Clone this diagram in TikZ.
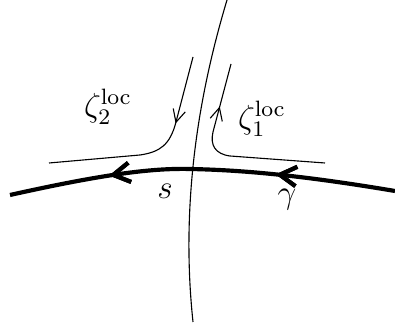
\documentclass[tikz,border=0pt]{standalone}
\usepackage{amsmath}
\usetikzlibrary{arrows.meta,decorations.markings}

\begin{document}
\begin{tikzpicture}[x=0.36pt,y=-0.36pt,
      thinline/.style={line width=0.4pt},
      thickline/.style={line width=1.5pt},
      marksmall/.style={postaction={decorate},decoration={markings,
                   mark=at position #1 with {\arrow{Straight Barb[length=4.5pt,width=4.5pt,line width=0.4pt]}}}},
      markbig/.style={postaction={decorate},decoration={markings,
                   mark=at position #1 with {\arrow{Straight Barb[length=6pt,width=7pt,line width=1.5pt]}}}},
      lbl/.style={inner sep=0pt,font=\large}]
    \useasboundingbox (0,0) rectangle (395,324);
    % vertical line through s
    \draw[thinline] (227,0) .. controls (200,90) and (180,200) .. (193,322);
    % the contour gamma
    \draw[thickline,markbig/.list={0.31,0.74}] (395,191) .. controls (300,175) and (240,170) .. (190,169)
                                     .. controls (150,168) and (100,175) .. (10,195);
    % local pieces
    \draw[thinline,marksmall=0.325] (193,57) -- (176,122) .. controls (170,145) and (160,152) .. (140,155) -- (49,163);
    \draw[thinline,marksmall=0.78] (325,163) -- (230,156) .. controls (215,154) and (210,145) .. (213,132) -- (231,64);
    \node[lbl] (z2) at (108,107) {$\zeta_2^{\mathrm{loc}}$};
    \node[lbl] (z1) at (262,119) {$\zeta_1^{\mathrm{loc}}$};
    \node[lbl] (s) at (165,191) {$s$};
    \node[lbl] (g) at (287,200) {$\gamma$};
  \end{tikzpicture}
\end{document}
